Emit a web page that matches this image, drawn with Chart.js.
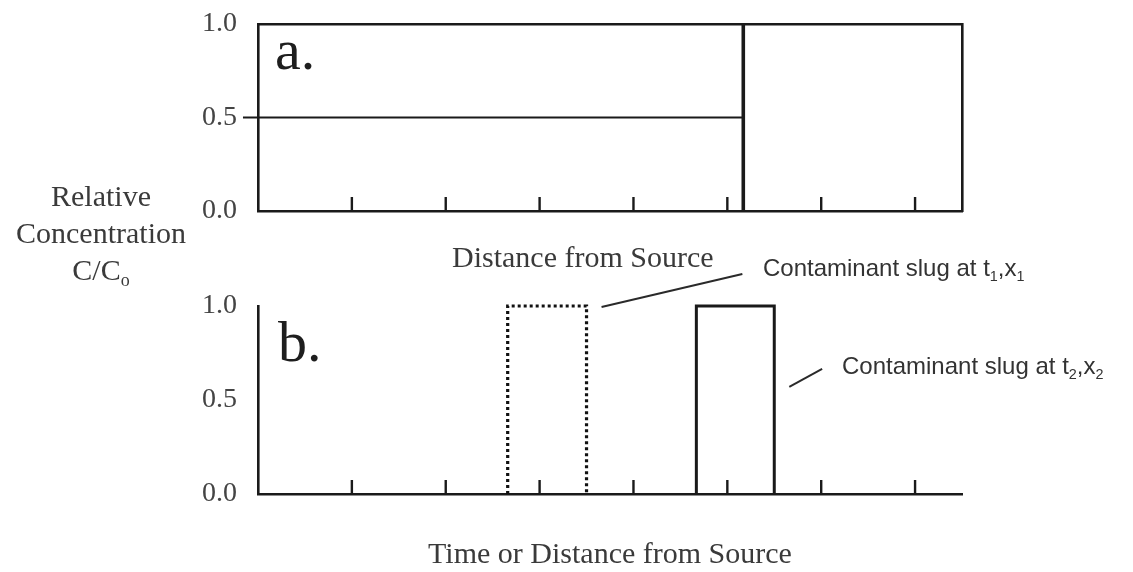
<!DOCTYPE html>
<html>
<head>
<meta charset="utf-8">
<script src="https://cdn.jsdelivr.net/npm/chart.js"></script>
<style>
  html, body { margin: 0; padding: 0; background: #fff; }
  #wrap { position: relative; width: 1133px; height: 572px; overflow: hidden; }
  canvas { position: absolute; left: 0; }
  #chartA { top: -14px; }
  #chartB { top: 245px; }
  .txt { position: absolute; white-space: nowrap; color: #3a3a3a; }
  .serif { font-family: "Liberation Serif", "DejaVu Serif", serif; font-size: 30px; line-height: 30px; }
  .sans { font-family: "Liberation Sans", Arial, sans-serif; font-size: 24px; line-height: 24px; color: #333; }
  .big { font-family: "Liberation Serif", serif; font-size: 58px; line-height: 58px; color: #1e1e1e; }
  sub { font-size: 60%; vertical-align: -0.35em; line-height: 0; }
</style>
</head>
<body>
<div id="wrap">
  <canvas id="chartA" width="1133" height="263"></canvas>
  <canvas id="chartB" width="1133" height="327"></canvas>

  <div class="txt serif" style="left:0;width:202px;top:177px;text-align:center;line-height:37px;">Relative<br>Concentration<br>C/C<sub>o</sub></div>
  <div class="txt big" style="left:275px;top:21px;">a.</div>
  <div class="txt big" style="left:278px;top:313px;">b.</div>
  <div class="txt serif" style="left:452px;top:242px;">Distance from Source</div>
  <div class="txt serif" style="left:258px;width:704px;top:538px;text-align:center;">Time or Distance from Source</div>
  <div class="txt sans" style="left:763px;top:256px;">Contaminant slug at t<sub>1</sub>,x<sub>1</sub></div>
  <div class="txt sans" style="left:842px;top:354px;">Contaminant slug at t<sub>2</sub>,x<sub>2</sub></div>
</div>

<script>
// tick values (both panels share the same axes)
const yTicks = [0, 0.5, 1.0];
const xTicks = [1, 2, 3, 4, 5, 6, 7];

// panel a: plane at C/Co = 0.5 and the sharp front
const planeX = [-0.16, 5.17];
const planeC = [0.5, 0.5];
const frontX = [5.17, 5.17];
const frontC = [0, 1];

// panel b: the slug at two times
const slug1X = [2.66, 2.66, 3.5, 3.5];
const slug1C = [0, 1, 1, 0];
const slug2X = [4.67, 4.67, 5.5, 5.5];
const slug2C = [0, 1, 1, 0];

// leader lines for the labels
const lead1X = [3.66, 5.16];
const lead1C = [0.995, 1.17];
const lead2X = [5.66, 6.01];
const lead2C = [0.57, 0.665];

const ink = '#1a1a1a';
const pts = (xs, ys) => xs.map((x, i) => ({ x: x, y: ys[i] }));

// tick marks pointing up into the plot from the x axis
const innerTicks = {
  id: 'innerTicks',
  afterDraw(chart) {
    const s = chart.scales.x;
    const ctx = chart.ctx;
    const b = chart.chartArea.bottom;
    ctx.save();
    ctx.strokeStyle = ink;
    ctx.lineWidth = 2.4;
    s.ticks.forEach(t => {
      const px = s.getPixelForValue(t.value);
      ctx.beginPath();
      ctx.moveTo(px, b);
      ctx.lineTo(px, b - 14);
      ctx.stroke();
    });
    ctx.restore();
  }
};

function xAxis(pos) {
  return {
    type: 'linear', position: pos, min: 0, max: 7.5,
    afterBuildTicks: s => { s.ticks = xTicks.map(v => ({ value: v })); },
    ticks: { display: false },
    grid: { display: false, drawTicks: false },
    border: { display: true, width: 2.6, color: ink },
    afterFit: s => { s.height = 0; }
  };
}

function yAxis(pos, withLabels) {
  return {
    type: 'linear', position: pos, min: 0, max: 1,
    afterBuildTicks: s => { s.ticks = yTicks.map(v => ({ value: v })); },
    ticks: {
      display: withLabels,
      padding: 21,
      color: '#444',
      font: { family: '"Liberation Serif", serif', size: 28 },
      callback: v => Number(v).toFixed(1)
    },
    grid: { display: false, drawTicks: false },
    border: { display: true, width: 2.6, color: ink },
    afterFit: s => { s.width = withLabels ? 258 : 0; }
  };
}

const common = {
  responsive: false,
  animation: false,
  events: [],
  plugins: { legend: { display: false }, tooltip: { enabled: false } },
  elements: { point: { radius: 0 }, line: { tension: 0, borderColor: ink, fill: false } }
};

new Chart(document.getElementById('chartA'), {
  type: 'line',
  data: {
    datasets: [
      { data: pts(planeX, planeC), borderWidth: 2.2, clip: false },
      { data: pts(frontX, frontC), borderWidth: 3.6 }
    ]
  },
  options: Object.assign({}, common, {
    layout: { padding: { left: 0, right: 171, top: 38, bottom: 38 } },
    scales: {
      x: xAxis('bottom'),
      xTop: xAxis('top'),
      y: yAxis('left', true),
      yRight: yAxis('right', false)
    }
  }),
  plugins: [innerTicks]
});

new Chart(document.getElementById('chartB'), {
  type: 'line',
  data: {
    datasets: [
      { data: pts(slug1X, slug1C), borderWidth: 3.2, borderColor: '#111', borderDash: [3, 3], clip: false },
      { data: pts(slug2X, slug2C), borderWidth: 3, clip: false },
      { data: pts(lead1X, lead1C), borderWidth: 2, borderColor: '#2a2a2a', clip: false },
      { data: pts(lead2X, lead2C), borderWidth: 2, borderColor: '#2a2a2a', clip: false }
    ]
  },
  options: Object.assign({}, common, {
    layout: { padding: { left: 0, right: 171, top: 61, bottom: 78 } },
    scales: {
      x: xAxis('bottom'),
      y: yAxis('left', true)
    }
  }),
  plugins: [innerTicks]
});
</script>
</body>
</html>
